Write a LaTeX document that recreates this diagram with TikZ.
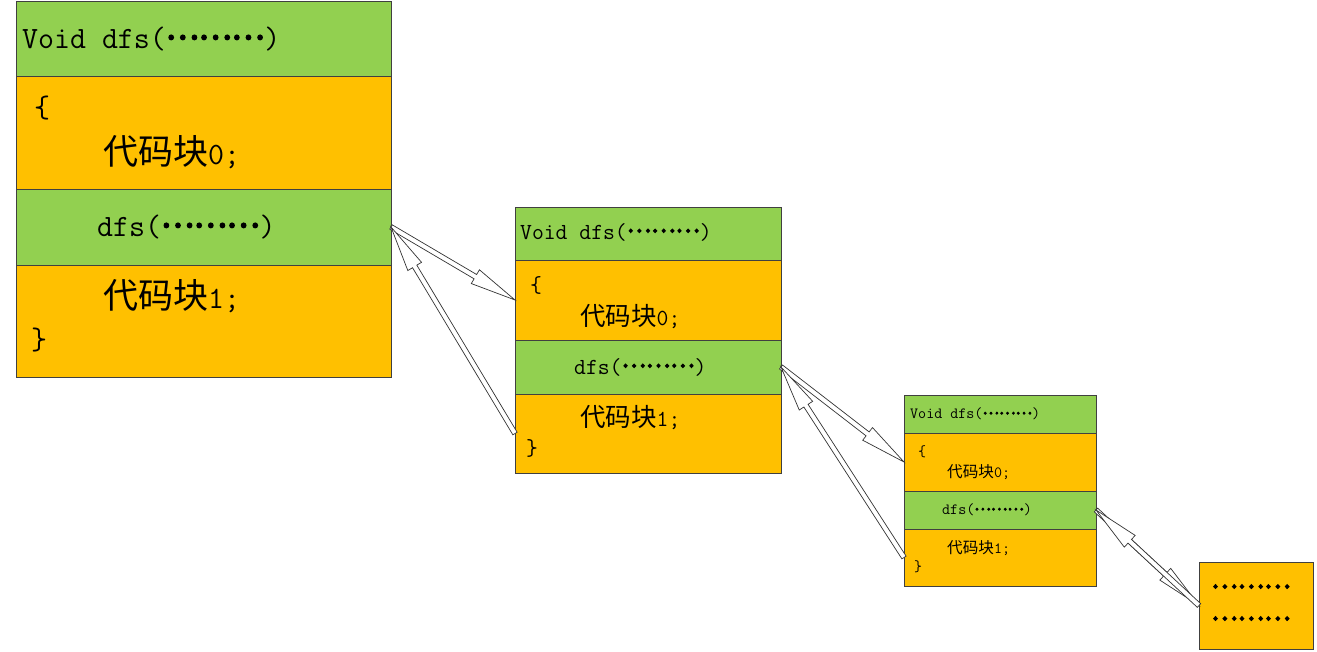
\documentclass[tikz,border=0pt]{standalone}
\usepackage{fontspec}
\usepackage{tikz}
\usetikzlibrary{positioning,calc}
\newfontfamily\cjk{Noto Sans CJK SC}
\newfontfamily\dotfont[FakeBold=5]{Noto Sans CJK SC}
\definecolor{rowgreen}{HTML}{92D050}
\definecolor{roworange}{HTML}{FFC000}
\newcommand\dfsdots{\raisebox{0.3em}{\dotfont ………}}
\newcommand\callarrow[2]{%
  \draw[arrowline] let \p1=($(#2)-(#1)$), \n1={atan2(\y1,\x1)}, \n2={veclen(\x1,\y1)} in
    [shift={(#1)},rotate=\n1] (0,-2.5) -- ({\n2-46},-2.5) -- ({\n2-46},-8) -- (\n2,0)
    -- ({\n2-46},8) -- ({\n2-46},2.5) -- (0,2.5) -- cycle;}

\begin{document}
\begin{tikzpicture}[x=1pt,y=-1pt,
  row/.style={draw=black!75,line width=0.9pt,inner sep=0pt,outer sep=0pt,anchor=north west},
  callrow/.style={row,fill=rowgreen},
  coderow/.style={row,fill=roworange},
  arrowline/.style={draw=black!80,fill=white,line width=0.7pt},
  txtA/.style={inner sep=0pt,anchor=west,font=\ttfamily\fontsize{31}{31}\selectfont},
  txtB/.style={inner sep=0pt,anchor=west,font=\ttfamily\fontsize{23}{23}\selectfont},
  txtC/.style={inner sep=0pt,anchor=west,font=\ttfamily\fontsize{15.6}{15.6}\selectfont}]
  \useasboundingbox (0,0) rectangle (1317,651);
  % first call
  \node[callrow,minimum width=375pt,minimum height=75pt] (A1) at (16,1) {};
  \node[coderow,minimum width=375pt,minimum height=113pt,below=0pt of A1] (A2) {};
  \node[callrow,minimum width=375pt,minimum height=76pt,below=0pt of A2] (A3) {};
  \node[coderow,minimum width=375pt,minimum height=112pt,below=0pt of A3] (A4) {};
  \node[txtA] (A1t) at (22,39) {Void dfs(\dfsdots)};
  \node[txtA] (A2a) at (34,108) {\{};
  \node[txtA] (A2b) at (103,152) {{\cjk\fontsize{35}{35}\selectfont 代码块}0;};
  \node[txtA] (A3t) at (97,227) {dfs(\dfsdots)};
  \node[txtA] (A4a) at (103,296) {{\cjk\fontsize{35}{35}\selectfont 代码块}1;};
  \node[txtA] (A4b) at (31,340) {\}};
  % second call
  \node[callrow,minimum width=266pt,minimum height=53pt] (B1) at (515,207) {};
  \node[coderow,minimum width=266pt,minimum height=80pt,below=0pt of B1] (B2) {};
  \node[callrow,minimum width=266pt,minimum height=54pt,below=0pt of B2] (B3) {};
  \node[coderow,minimum width=266pt,minimum height=79pt,below=0pt of B3] (B4) {};
  \node[txtB] (B1t) at (520,232) {Void dfs(\dfsdots)};
  \node[txtB] (B2a) at (530,285) {\{};
  \node[txtB] (B2b) at (580,317) {{\cjk\fontsize{25.5}{25.5}\selectfont 代码块}0;};
  \node[txtB] (B3t) at (574,367) {dfs(\dfsdots)};
  \node[txtB] (B4a) at (580,418) {{\cjk\fontsize{25.5}{25.5}\selectfont 代码块}1;};
  \node[txtB] (B4b) at (526,448) {\}};
  % third call
  \node[callrow,minimum width=192pt,minimum height=38pt] (C1) at (904,395) {};
  \node[coderow,minimum width=192pt,minimum height=58pt,below=0pt of C1] (C2) {};
  \node[callrow,minimum width=192pt,minimum height=38pt,below=0pt of C2] (C3) {};
  \node[coderow,minimum width=192pt,minimum height=57pt,below=0pt of C3] (C4) {};
  \node[txtC] (C1t) at (910,414) {Void dfs(\dfsdots)};
  \node[txtC] (C2a) at (918,452) {\{};
  \node[txtC] (C2b) at (947,472) {{\cjk\fontsize{15.6}{15.6}\selectfont 代码块}0;};
  \node[txtC] (C3t) at (942,510) {dfs(\dfsdots)};
  \node[txtC] (C4a) at (947,548) {{\cjk\fontsize{15.6}{15.6}\selectfont 代码块}1;};
  \node[txtC] (C4b) at (914,567) {\}};
  % deeper calls
  \node[coderow,minimum width=114pt,minimum height=87pt] (D) at (1199,562) {};
  \node[inner sep=0pt,anchor=base west,font=\dotfont\fontsize{25}{25}\selectfont] (D1) at (1211,588) {………};
  \node[inner sep=0pt,anchor=base west,font=\dotfont\fontsize{25}{25}\selectfont] (D2) at (1211,620) {………};
  \callarrow{A3.east}{B2.west}
  \callarrow{B4.west}{A3.east}
  \callarrow{B3.east}{C2.west}
  \callarrow{C4.west}{B3.east}
  \callarrow{C3.east}{D.west}
  \callarrow{D.west}{C3.east}
\end{tikzpicture}
\end{document}
